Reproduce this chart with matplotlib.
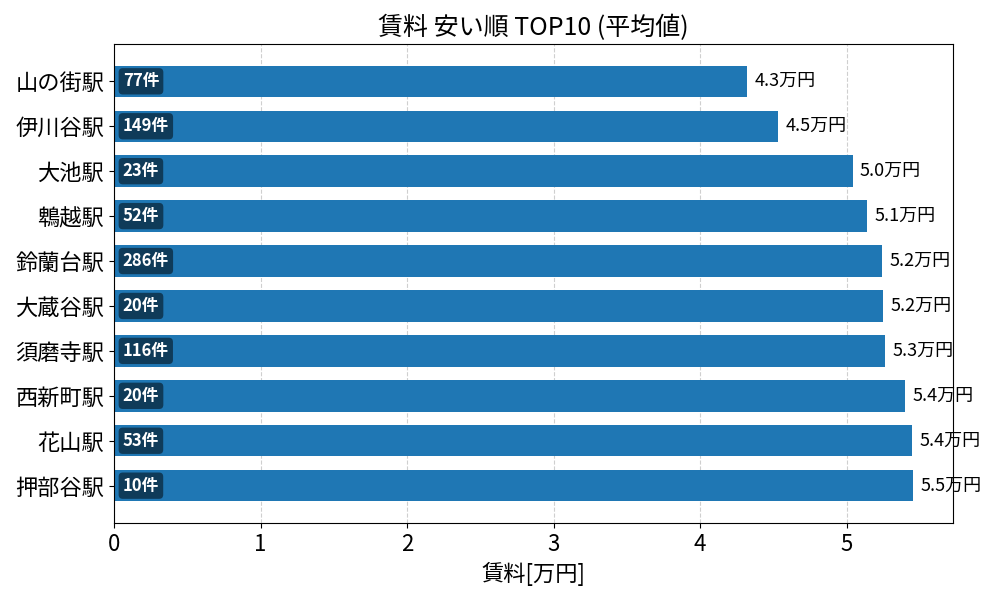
import matplotlib
matplotlib.use("Agg")
import matplotlib.pyplot as plt

plt.rcParams['font.family'] = ['Noto Sans CJK JP', 'DejaVu Sans']

# 賃料の安い駅 TOP10
stations = ["山の街駅", "伊川谷駅", "大池駅", "鵯越駅", "鈴蘭台駅",
            "大蔵谷駅", "須磨寺駅", "西新町駅", "花山駅", "押部谷駅"]
rent = [4.32, 4.53, 5.04, 5.14, 5.24, 5.245, 5.26, 5.40, 5.448, 5.452]
counts = [77, 149, 23, 52, 286, 20, 116, 20, 53, 10]

fig, ax = plt.subplots(figsize=(10, 6), dpi=100)

y = list(range(len(stations)))
ax.barh(y, rent, height=0.7, color="#1f77b4", zorder=2)
ax.set_yticks(y)
ax.set_yticklabels(stations, fontsize=16)
ax.invert_yaxis()

max_rent = max(rent)
ax.set_xlim(0, max_rent * 1.05)

for i, (v, c) in enumerate(zip(rent, counts)):
    ax.text(v + 0.05, i, f"{v:.1f}万円", va="center", ha="left", fontsize=13)
    ax.text(0.06, i, f"{c}件", va="center", ha="left", fontsize=12,
            color="white", fontweight="bold", zorder=3,
            bbox=dict(boxstyle="round,pad=0.25", facecolor="black",
                      alpha=0.5, edgecolor="none"))

ax.tick_params(axis="x", labelsize=16)
ax.grid(axis="x", linestyle="--", alpha=0.6, zorder=0)
ax.set_xlabel("賃料[万円]", fontsize=16)
ax.set_title("賃料 安い順 TOP10 (平均値)", fontsize=18)

plt.subplots_adjust(left=0.114, right=0.953, top=0.927, bottom=0.128)
plt.savefig("out.png")
